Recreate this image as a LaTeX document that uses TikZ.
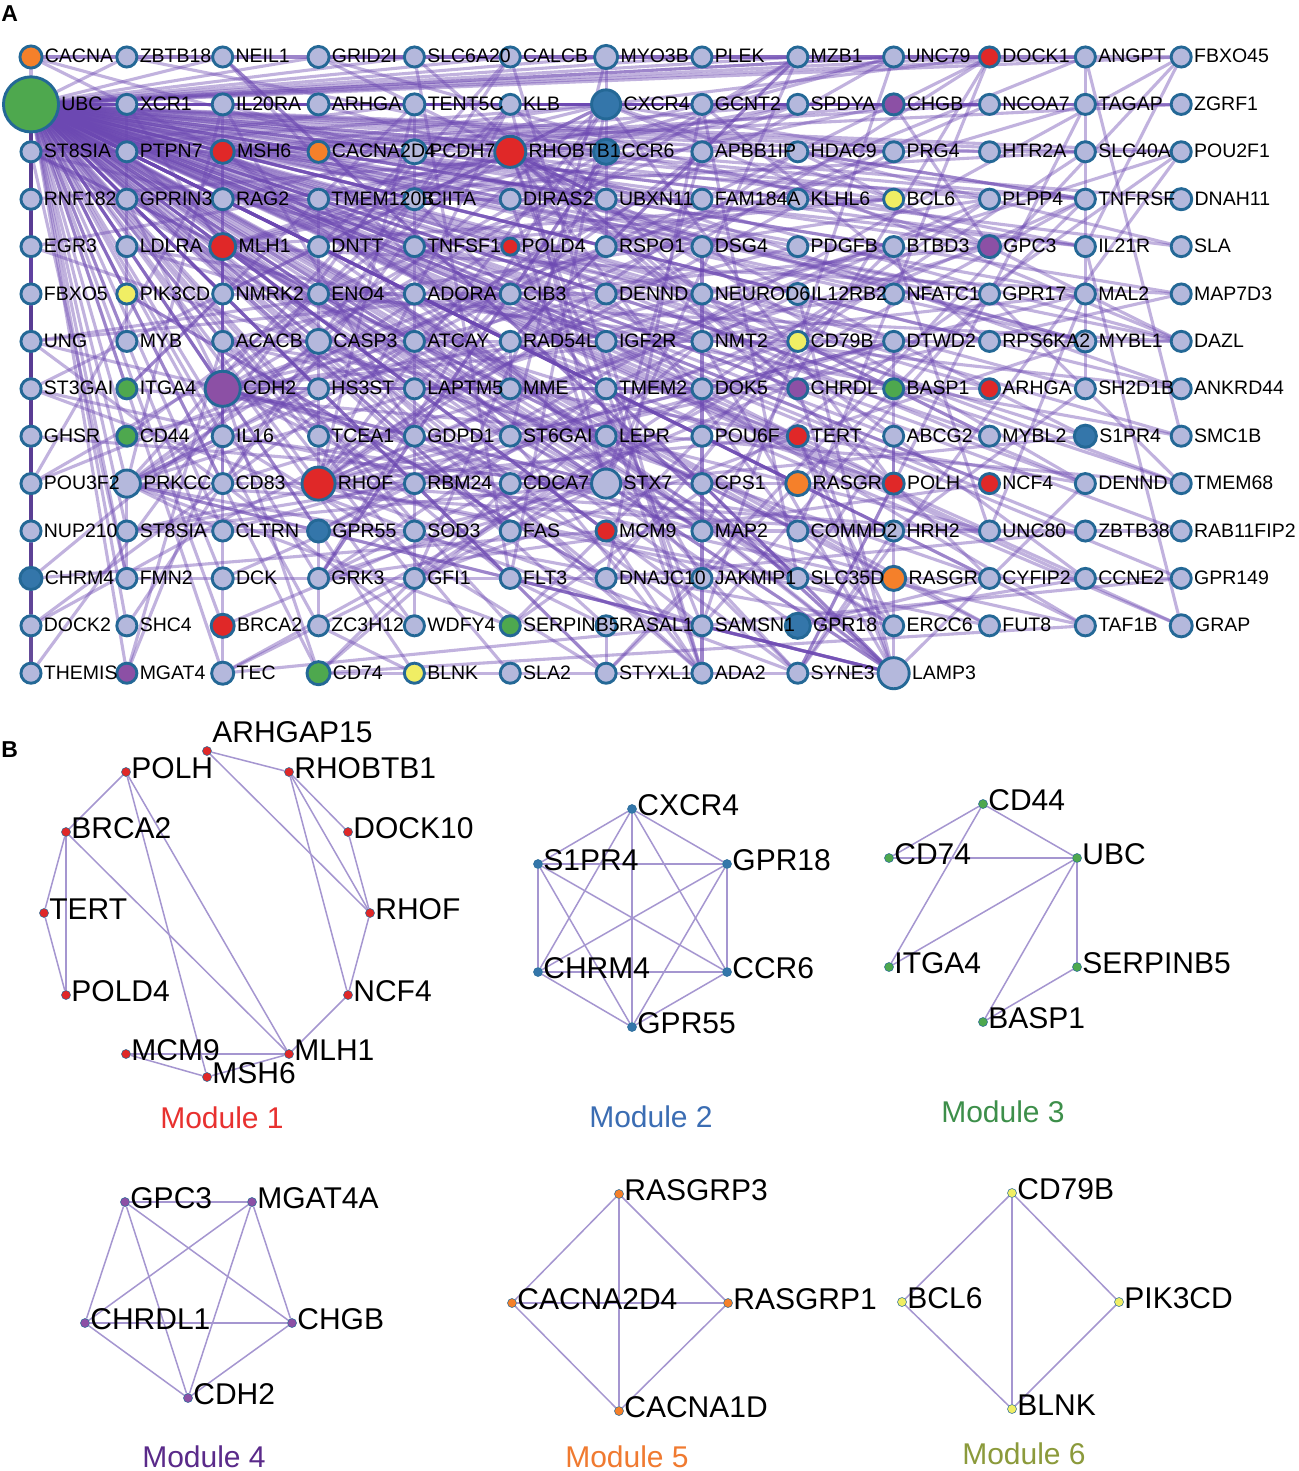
\documentclass[tikz,border=0pt]{standalone}
\usepackage{fontspec}
\setmainfont{Liberation Sans}
\definecolor{ndf}{RGB}{180,184,220}
\definecolor{ndb}{RGB}{36,104,150}
\definecolor{cr}{RGB}{224,40,40}
\definecolor{co}{RGB}{245,128,42}
\definecolor{cg}{RGB}{78,168,78}
\definecolor{cy}{RGB}{240,238,100}
\definecolor{cp}{RGB}{140,80,165}
\definecolor{cb}{RGB}{52,118,170}
\definecolor{edgec}{RGB}{108,72,178}
\definecolor{bedge}{RGB}{165,150,208}
\definecolor{m1c}{RGB}{232,49,47}
\definecolor{m2c}{RGB}{59,109,179}
\definecolor{m3c}{RGB}{61,143,74}
\definecolor{m4c}{RGB}{90,42,138}
\definecolor{m5c}{RGB}{240,122,48}
\definecolor{m6c}{RGB}{139,154,59}
\pgfdeclarelayer{bg}\pgfdeclarelayer{fg}\pgfsetlayers{bg,main,fg}
\tikzset{
  gnode/.style={circle, draw=ndb, line width=1.45pt, inner sep=0pt},
  glab/.style={inner sep=0pt, anchor=base west, font=\fontsize{9.75}{11}\selectfont},
  edgeA/.style={draw=edgec, line width=1.55pt, opacity=0.42, line cap=round},
  colA/.style={draw=edgec!80!black, line width=2pt, opacity=0.85},
  bdot/.style={circle, draw=ndb, line width=0.25pt, inner sep=0pt, minimum size=4.5pt},
  blab/.style={inner sep=0pt, anchor=base west, font=\fontsize{15}{17}\selectfont},
  edgeB/.style={draw=bedge, line width=0.75pt},
  mlab/.style={inner sep=0pt, anchor=base, font=\fontsize{15}{17}\selectfont},
  plet/.style={inner sep=0pt, anchor=base west, font=\fontsize{11.5}{13}\selectfont\bfseries}
}
\newcommand\gx[5]{%
  \node[gnode, fill=#4, minimum size=#5pt-1.45pt] (a#1-#2) at ({31+95.85*#2},{57+47.4*#1}) {};
  \begin{pgfonlayer}{fg}
  \node[glab] (l#1-#2) at ({31+95.85*#2+#5+1},{57+47.4*#1+6}) {#3};
  \end{pgfonlayer}}
\newcommand\gn[3]{\gx{#1}{#2}{#3}{ndf}{11.5}}
\newcommand\md[5]{%
  \node[bdot, fill=#5] (#1) at (#2,#3) {};
  \node[blab] (#1-l) at ({#2+5},{#3+6}) {#4};}
\begin{document}
\begin{tikzpicture}[x=0.5pt,y=-0.5pt]
\useasboundingbox (0,0) rectangle (1299,1471);
\begin{pgfonlayer}{bg}
\fill[white] (0,0) rectangle (1299,1471);
\end{pgfonlayer}
\node[plet] (pA) at (1,22) {A};
\node[plet] (pB) at (1,757) {B};
% ---------- panel A nodes
\gx{0}{0}{CACNA}{co}{12.5}
\gn{0}{1}{ZBTB18}
\gn{0}{2}{NEIL1}
\gx{0}{3}{GRID2I}{ndf}{12}
\gn{0}{4}{SLC6A20}
\gn{0}{5}{CALCB}
\gx{0}{6}{MYO3B}{ndf}{13}
\gn{0}{7}{PLEK}
\gn{0}{8}{MZB1}
\gn{0}{9}{UNC79}
\gx{0}{10}{DOCK1}{cr}{11.5}
\gn{0}{11}{ANGPT}
\gn{0}{12}{FBXO45}
\gx{1}{0}{UBC}{cg}{29}
\gn{1}{1}{XCR1}
\gx{1}{2}{IL20RA}{ndf}{12}
\gx{1}{3}{ARHGA}{ndf}{12}
\gx{1}{4}{TENT5C}{ndf}{12}
\gn{1}{5}{KLB}
\gx{1}{6}{CXCR4}{cb}{16}
\gn{1}{7}{GCNT2}
\gn{1}{8}{SPDYA}
\gx{1}{9}{CHGB}{cp}{12}
\gn{1}{10}{NCOA7}
\gn{1}{11}{TAGAP}
\gn{1}{12}{ZGRF1}
\gn{2}{0}{ST8SIA}
\gn{2}{1}{PTPN7}
\gx{2}{2}{MSH6}{cr}{13}
\gx{2}{3}{CACNA2D4}{co}{12}
\gx{2}{4}{PCDH7}{ndf}{13.5}
\gx{2}{5}{RHOBTB1}{cr}{17}
\gx{2}{6}{CCR6}{cb}{14}
\gn{2}{7}{APBB1IP}
\gn{2}{8}{HDAC9}
\gn{2}{9}{PRG4}
\gn{2}{10}{HTR2A}
\gn{2}{11}{SLC40A}
\gn{2}{12}{POU2F1}
\gn{3}{0}{RNF182}
\gn{3}{1}{GPRIN3}
\gx{3}{2}{RAG2}{ndf}{12}
\gn{3}{3}{TMEM120B}
\gx{3}{4}{CIITA}{ndf}{12}
\gn{3}{5}{DIRAS2}
\gn{3}{6}{UBXN11}
\gn{3}{7}{FAM184A}
\gn{3}{8}{KLHL6}
\gx{3}{9}{BCL6}{cy}{11.5}
\gn{3}{10}{PLPP4}
\gn{3}{11}{TNFRSF}
\gx{3}{12}{DNAH11}{ndf}{12}
\gn{4}{0}{EGR3}
\gn{4}{1}{LDLRA}
\gx{4}{2}{MLH1}{cr}{14.5}
\gn{4}{3}{DNTT}
\gn{4}{4}{TNFSF1}
\gx{4}{5}{POLD4}{cr}{10}
\gn{4}{6}{RSPO1}
\gn{4}{7}{DSG4}
\gn{4}{8}{PDGFB}
\gn{4}{9}{BTBD3}
\gx{4}{10}{GPC3}{cp}{12.5}
\gn{4}{11}{IL21R}
\gn{4}{12}{SLA}
\gn{5}{0}{FBXO5}
\gx{5}{1}{PIK3CD}{cy}{11.5}
\gn{5}{2}{NMRK2}
\gn{5}{3}{ENO4}
\gn{5}{4}{ADORA}
\gn{5}{5}{CIB3}
\gn{5}{6}{DENND}
\gn{5}{7}{NEUROD6}
\gx{5}{8}{IL12RB2}{ndf}{12}
\gn{5}{9}{NFATC1}
\gn{5}{10}{GPR17}
\gn{5}{11}{MAL2}
\gn{5}{12}{MAP7D3}
\gn{6}{0}{UNG}
\gn{6}{1}{MYB}
\gn{6}{2}{ACACB}
\gx{6}{3}{CASP3}{ndf}{13.5}
\gn{6}{4}{ATCAY}
\gn{6}{5}{RAD54L}
\gn{6}{6}{IGF2R}
\gn{6}{7}{NMT2}
\gx{6}{8}{CD79B}{cy}{11.5}
\gn{6}{9}{DTWD2}
\gn{6}{10}{RPS6KA2}
\gx{6}{11}{MYBL1}{ndf}{12}
\gn{6}{12}{DAZL}
\gn{7}{0}{ST3GAI}
\gx{7}{1}{ITGA4}{cg}{11.5}
\gx{7}{2}{CDH2}{cp}{19}
\gn{7}{3}{HS3ST}
\gn{7}{4}{LAPTM5}
\gn{7}{5}{MME}
\gn{7}{6}{TMEM2}
\gn{7}{7}{DOK5}
\gx{7}{8}{CHRDL}{cp}{11.5}
\gx{7}{9}{BASP1}{cg}{11.5}
\gx{7}{10}{ARHGA}{cr}{11.5}
\gn{7}{11}{SH2D1B}
\gn{7}{12}{ANKRD44}
\gn{8}{0}{GHSR}
\gx{8}{1}{CD44}{cg}{11.5}
\gx{8}{2}{IL16}{ndf}{12}
\gn{8}{3}{TCEA1}
\gn{8}{4}{GDPD1}
\gn{8}{5}{ST6GAI}
\gn{8}{6}{LEPR}
\gn{8}{7}{POU6F}
\gx{8}{8}{TERT}{cr}{12}
\gn{8}{9}{ABCG2}
\gn{8}{10}{MYBL2}
\gx{8}{11}{S1PR4}{cb}{12.5}
\gn{8}{12}{SMC1B}
\gn{9}{0}{POU3F2}
\gx{9}{1}{PRKCC}{ndf}{15}
\gn{9}{2}{CD83}
\gx{9}{3}{RHOF}{cr}{18}
\gn{9}{4}{RBM24}
\gn{9}{5}{CDCA7}
\gx{9}{6}{STX7}{ndf}{16}
\gn{9}{7}{CPS1}
\gx{9}{8}{RASGR}{co}{13.5}
\gx{9}{9}{POLH}{cr}{12}
\gx{9}{10}{NCF4}{cr}{11.5}
\gn{9}{11}{DENND}
\gn{9}{12}{TMEM68}
\gn{10}{0}{NUP210}
\gn{10}{1}{ST8SIA}
\gn{10}{2}{CLTRN}
\gx{10}{3}{GPR55}{cb}{12.5}
\gn{10}{4}{SOD3}
\gn{10}{5}{FAS}
\gx{10}{6}{MCM9}{cr}{11.5}
\gn{10}{7}{MAP2}
\gn{10}{8}{COMMD2}
\gn{10}{9}{HRH2}
\gn{10}{10}{UNC80}
\gn{10}{11}{ZBTB38}
\gn{10}{12}{RAB11FIP2}
\gx{11}{0}{CHRM4}{cb}{12.5}
\gn{11}{1}{FMN2}
\gx{11}{2}{DCK}{ndf}{12}
\gn{11}{3}{GRK3}
\gn{11}{4}{GFI1}
\gn{11}{5}{FLT3}
\gn{11}{6}{DNAJC10}
\gn{11}{7}{JAKMIP1}
\gn{11}{8}{SLC35D}
\gx{11}{9}{RASGR}{co}{13.5}
\gn{11}{10}{CYFIP2}
\gn{11}{11}{CCNE2}
\gn{11}{12}{GPR149}
\gn{12}{0}{DOCK2}
\gn{12}{1}{SHC4}
\gx{12}{2}{BRCA2}{cr}{13}
\gn{12}{3}{ZC3H12}
\gn{12}{4}{WDFY4}
\gx{12}{5}{SERPINB5}{cg}{11.5}
\gn{12}{6}{RASAL1}
\gn{12}{7}{SAMSN1}
\gx{12}{8}{GPR18}{cb}{14}
\gn{12}{9}{ERCC6}
\gn{12}{10}{FUT8}
\gn{12}{11}{TAF1B}
\gx{12}{12}{GRAP}{ndf}{12.5}
\gn{13}{0}{THEMIS}
\gx{13}{1}{MGAT4}{cp}{11.5}
\gx{13}{2}{TEC}{ndf}{12.5}
\gx{13}{3}{CD74}{cg}{13}
\gx{13}{4}{BLNK}{cy}{11.5}
\gn{13}{5}{SLA2}
\gn{13}{6}{STYXL1}
\gn{13}{7}{ADA2}
\gn{13}{8}{SYNE3}
\gx{13}{9}{LAMP3}{ndf}{17}
% ---------- panel A edges
\begin{pgfonlayer}{bg}
\foreach \r in {0,...,13}{\foreach \c in {0,...,12}{%
  \pgfmathtruncatemacro\skip{or(and(\r==13,\c>9),and(\r==1,\c==0))}%
  \ifnum\skip=0 \draw[edgeA] (a1-0) -- (a\r-\c);\fi}}
\foreach \r [evaluate=\r as \s using int(\r+1)] in {1,...,12}{\draw[colA] (a\r-0) -- (a\s-0);}
\foreach \c [evaluate=\c as \d using int(\c+1)] in {0,...,11}{\draw[edgeA] (a0-\c) -- (a0-\d);}
\foreach \c [evaluate=\c as \d using int(\c+1)] in {1,...,11}{\draw[edgeA] (a1-\c) -- (a1-\d);}
\pgfmathsetseed{4242}
\foreach \i in {1,...,200}{%
  \pgfmathtruncatemacro\ra{random(0,13)}%
  \pgfmathtruncatemacro\cx{random(0,12)}%
  \pgfmathtruncatemacro\ca{ifthenelse(and(\ra==13,\cx>9),\cx-4,\cx)}%
  \pgfmathtruncatemacro\rb{random(0,13)}%
  \pgfmathtruncatemacro\cy{random(0,12)}%
  \pgfmathtruncatemacro\cb{ifthenelse(and(\rb==13,\cy>9),\cy-4,\cy)}%
  \draw[edgeA] (a\ra-\ca) -- (a\rb-\cb);}
\foreach \h in {a1-6,a2-5,a9-3,a7-2,a9-6,a13-9,a9-1,a4-2,a2-2}{%
  \foreach \k in {1,...,12}{%
    \pgfmathtruncatemacro\rb{random(0,13)}%
    \pgfmathtruncatemacro\cy{random(0,12)}%
    \pgfmathtruncatemacro\cb{ifthenelse(and(\rb==13,\cy>9),\cy-4,\cy)}%
    \draw[edgeA] (\h) -- (a\rb-\cb);}}
\end{pgfonlayer}
% ---------- panel B
% Module 1
\md{m1arh}{207}{751}{}{cr}
\node[blab] (m1arh-t) at (212,742) {ARHGAP15};
\md{m1polh}{126}{772}{POLH}{cr}
\md{m1rho}{289}{772}{RHOBTB1}{cr}
\md{m1brca}{66}{832}{BRCA2}{cr}
\md{m1dock}{348}{832}{DOCK10}{cr}
\md{m1tert}{44}{913}{TERT}{cr}
\md{m1rhof}{370}{913}{RHOF}{cr}
\md{m1pold}{66}{995}{POLD4}{cr}
\md{m1ncf}{348}{995}{NCF4}{cr}
\md{m1mcm}{126}{1054}{MCM9}{cr}
\md{m1mlh}{289}{1054}{MLH1}{cr}
\md{m1msh}{207}{1077}{MSH6}{cr}
\node[mlab, text=m1c] (mod1) at (222,1128) {Module 1};
% Module 2
\md{m2cx}{632}{809}{CXCR4}{cb}
\md{m2s1}{538}{864}{S1PR4}{cb}
\md{m2g18}{727}{864}{GPR18}{cb}
\md{m2ch}{538}{972}{CHRM4}{cb}
\md{m2cc}{727}{972}{CCR6}{cb}
\md{m2g55}{632}{1027}{GPR55}{cb}
\node[mlab, text=m2c] (mod2) at (651,1127) {Module 2};
% Module 3
\md{m3cd44}{983}{804}{CD44}{cg}
\md{m3cd74}{889}{858}{CD74}{cg}
\md{m3ubc}{1077}{858}{UBC}{cg}
\md{m3itga}{889}{967}{ITGA4}{cg}
\md{m3serp}{1077}{967}{SERPINB5}{cg}
\md{m3basp}{983}{1022}{BASP1}{cg}
\node[mlab, text=m3c] (mod3) at (1003,1122) {Module 3};
% Module 4
\md{m4gpc}{125}{1202}{GPC3}{cp}
\md{m4mgat}{252}{1202}{MGAT4A}{cp}
\md{m4chrd}{85}{1323}{CHRDL1}{cp}
\md{m4chgb}{292}{1323}{CHGB}{cp}
\md{m4cdh}{188}{1398}{CDH2}{cp}
\node[mlab, text=m4c] (mod4) at (204,1467) {Module 4};
% Module 5
\md{m5r3}{619}{1194}{RASGRP3}{co}
\md{m5c2}{512}{1303}{CACNA2D4}{co}
\md{m5r1}{728}{1303}{RASGRP1}{co}
\md{m5c1}{619}{1411}{CACNA1D}{co}
\node[mlab, text=m5c] (mod5) at (627,1467) {Module 5};
% Module 6
\md{m6cd}{1012}{1193}{CD79B}{cy}
\md{m6bcl}{902}{1302}{BCL6}{cy}
\md{m6pik}{1119}{1302}{PIK3CD}{cy}
\md{m6blnk}{1012}{1409}{BLNK}{cy}
\node[mlab, text=m6c] (mod6) at (1024,1464) {Module 6};
\begin{pgfonlayer}{bg}
\foreach \u/\v in {m1arh/m1rho, m1arh/m1rhof, m1polh/m1brca, m1polh/m1msh, m1polh/m1mlh,
  m1brca/m1tert, m1brca/m1pold, m1brca/m1mlh, m1tert/m1pold, m1rho/m1dock, m1rho/m1rhof,
  m1rho/m1ncf, m1dock/m1rhof, m1rhof/m1ncf, m1ncf/m1mlh, m1mcm/m1mlh, m1mcm/m1msh, m1msh/m1mlh,
  m2cx/m2s1, m2cx/m2g18, m2cx/m2ch, m2cx/m2cc, m2cx/m2g55, m2s1/m2g18, m2s1/m2ch, m2s1/m2cc,
  m2s1/m2g55, m2g18/m2ch, m2g18/m2cc, m2g18/m2g55, m2ch/m2cc, m2ch/m2g55, m2cc/m2g55,
  m3cd44/m3cd74, m3cd44/m3itga, m3cd44/m3ubc, m3cd74/m3ubc, m3ubc/m3itga, m3ubc/m3basp,
  m3ubc/m3serp, m3serp/m3basp,
  m4gpc/m4mgat, m4gpc/m4chrd, m4gpc/m4chgb, m4gpc/m4cdh, m4mgat/m4chrd, m4mgat/m4chgb,
  m4mgat/m4cdh, m4chrd/m4chgb, m4chrd/m4cdh, m4chgb/m4cdh,
  m5r3/m5c2, m5r3/m5r1, m5r3/m5c1, m5c2/m5r1, m5c2/m5c1, m5r1/m5c1,
  m6cd/m6bcl, m6cd/m6blnk, m6cd/m6pik, m6bcl/m6blnk, m6pik/m6blnk}
  {\draw[edgeB] (\u) -- (\v);}
\end{pgfonlayer}
\end{tikzpicture}
\end{document}
